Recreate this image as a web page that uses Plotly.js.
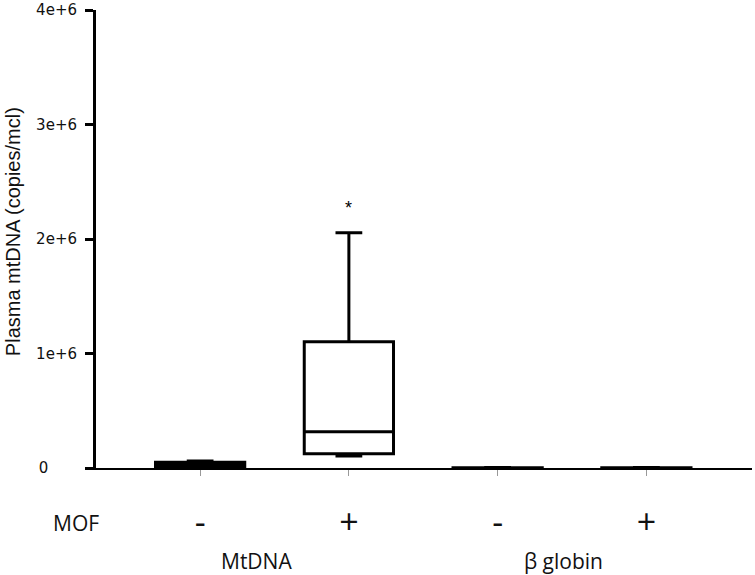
<!DOCTYPE html>
<html>
<head>
<meta charset="utf-8">
<script src="https://cdn.plot.ly/plotly-3.0.1.min.js"></script>
<style>html,body{margin:0;padding:0;background:#fff;}#chart{width:755px;height:575px;}</style>
</head>
<body>
<div id="chart"></div>
<script>
// Data
var positions = [0, 1, 2, 3];
var mofLabels = ['-', '+', '-', '+'];
var q1Values = [10000, 125000, 0, 0];
var medianValues = [30000, 317000, 1000, 1000];
var q3Values = [50000, 1103000, 3000, 3000];
var lowerWhiskers = [5000, 105000, 0, 0];
var upperWhiskers = [62000, 2055000, 4000, 4000];
var groupNames = ['MtDNA', 'β globin'];
var groupCenters = [0.377, 2.44];
var yTickVals = [0, 1e6, 2e6, 3e6, 4e6];
var yTickText = ['0\u2007\u2007\u2007', '1e+6', '2e+6', '3e+6', '4e+6'];
var yTitle = 'Plasma mtDNA (copies/mcl)';
var rowLabel = 'MOF';
var significance = {x: 1, y: 2.27e6, text: '*'};

var trace = {
  type: 'box',
  x: positions,
  q1: q1Values,
  median: medianValues,
  q3: q3Values,
  lowerfence: lowerWhiskers,
  upperfence: upperWhiskers,
  width: 0.6,
  whiskerwidth: 0.3,
  boxpoints: false,
  fillcolor: 'rgba(255,255,255,0)',
  line: {color: '#000', width: 3},
  hoverinfo: 'skip',
  showlegend: false
};

var catFont = {family: 'Open Sans, Noto Sans, sans-serif', size: 21, color: '#111'};
var annotations = [
  {x: significance.x, y: significance.y, xref: 'x', yref: 'y', text: significance.text,
   showarrow: false, font: {family: 'Liberation Sans, Arial', size: 18, color: '#000'}},
  {xref: 'paper', yref: 'paper', x: 0.0076, y: -0.120, xanchor: 'right', yanchor: 'middle',
   text: rowLabel, showarrow: false, font: catFont},
  {xref: 'paper', yref: 'paper', x: -0.1265, y: 0.515, xanchor: 'center', yanchor: 'middle',
   textangle: -90, text: yTitle, showarrow: false,
   font: {family: 'Liberation Sans, Arial', size: 20, color: '#111'}}
];
for (var i = 0; i < groupNames.length; i++) {
  annotations.push({xref: 'x', yref: 'paper', x: groupCenters[i], y: -0.204, yanchor: 'middle',
    text: groupNames[i], showarrow: false, font: catFont});
}

var layout = {
  width: 755, height: 575,
  margin: {l: 96, r: 3, t: 10, b: 107},
  paper_bgcolor: '#fff', plot_bgcolor: '#fff',
  font: {family: 'Liberation Sans, Arial, sans-serif', color: '#000'},
  xaxis: {
    range: [-0.7, 3.71],
    tickvals: positions, ticktext: mofLabels,
    ticks: 'outside', ticklen: 6, tickwidth: 1, tickcolor: '#999',
    ticklabelstandoff: 17,
    tickfont: {family: 'Open Sans, Noto Sans, sans-serif', size: 34, color: '#111'},
    showline: true, linecolor: '#000', linewidth: 2,
    showgrid: false, zeroline: false, fixedrange: true
  },
  yaxis: {
    range: [0, 4e6],
    tickvals: yTickVals, ticktext: yTickText,
    ticks: 'outside', ticklen: 8, tickwidth: 3, tickcolor: '#000',
    ticklabelstandoff: 5,
    tickfont: {family: 'DejaVu Sans, Verdana', size: 15, color: '#111'},
    showline: true, linecolor: '#000', linewidth: 3,
    showgrid: false, zeroline: false
  },
  annotations: annotations
};

Plotly.newPlot('chart', [trace], layout, {displayModeBar: false, staticPlot: true});
</script>
</body>
</html>
